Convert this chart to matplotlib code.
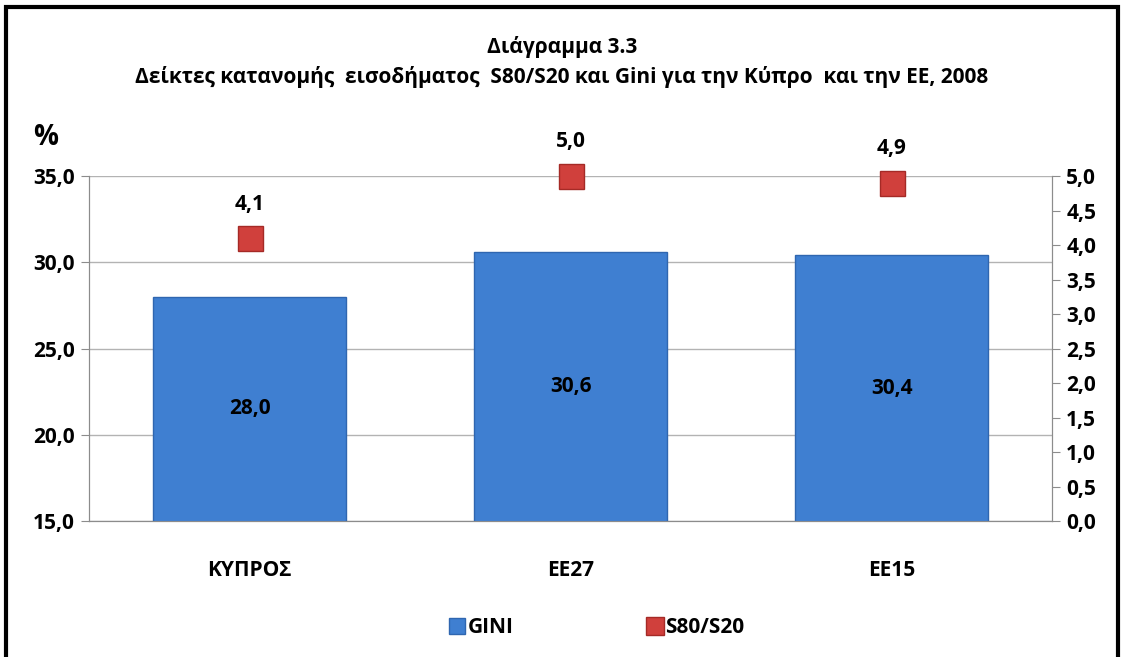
import matplotlib.pyplot as plt
from matplotlib.lines import Line2D
from matplotlib.patches import Rectangle
from matplotlib.ticker import FuncFormatter

categories = ['ΚΥΠΡΟΣ', 'ΕΕ27', 'ΕΕ15']
gini = [28.0, 30.6, 30.4]
s80_s20 = [4.1, 5.0, 4.9]

plt.rcParams['font.family'] = ['Open Sans', 'DejaVu Sans']
plt.rcParams['font.weight'] = 'bold'

bar_color = '#3f7fd1'
mark_color = '#d0403c'
grey = '#8c8c8c'
fs = 15

fig = plt.figure(figsize=(11.24, 6.57), dpi=100)
ax = fig.add_axes([0.0792, 0.207, 0.857, 0.525])
ax2 = ax.twinx()

x = range(len(categories))
bars = ax.bar(x, gini, width=0.6, bottom=0, color=bar_color,
              edgecolor='#2f66b0', linewidth=1.0, zorder=3)
ax.set_ylim(15, 35)
ax.set_xlim(-0.5, 2.5)
ax.set_yticks([15, 20, 25, 30, 35])
ax.yaxis.grid(True, color='#b3b3b3', linewidth=1.0, zorder=0)
ax.set_axisbelow(True)

fmt = FuncFormatter(lambda v, p: f"{v:.1f}".replace('.', ','))
ax.yaxis.set_major_formatter(fmt)
ax.set_xticks(list(x))
ax.set_xticklabels(categories, fontsize=fs, fontweight='bold')
ax.tick_params(axis='x', length=0, pad=28)
ax.tick_params(axis='y', labelsize=fs, color=grey, length=6, direction='out', pad=4)

for b, v in zip(bars, gini):
    ax.text(b.get_x() + b.get_width() / 2, (v + 15) / 2, f"{v:.1f}".replace('.', ','),
            ha='center', va='center', fontsize=fs, fontweight='bold', zorder=5)

ax2.plot(list(x), s80_s20, linestyle='none', marker='s', markersize=18,
         markerfacecolor=mark_color, markeredgecolor='#a52a26', markeredgewidth=1,
         zorder=6, clip_on=False)
ax2.set_ylim(0, 5)
ax2.set_yticks([i * 0.5 for i in range(11)])
ax2.yaxis.set_major_formatter(fmt)
ax2.tick_params(axis='y', labelsize=fs, color=grey, length=6, direction='out', pad=4)
for xi, v in zip(x, s80_s20):
    ax2.annotate(f"{v:.1f}".replace('.', ','), (xi, v), xytext=(0, 17),
                 textcoords='offset points', ha='center', va='bottom',
                 fontsize=fs, fontweight='bold')

for a in (ax, ax2):
    a.spines['top'].set_visible(False)
    a.spines['left'].set_color(grey)
    a.spines['right'].set_color(grey)
    a.spines['bottom'].set_color(grey)

fig.text(0.5, 0.928, 'Διάγραμμα 3.3', ha='center', va='center', fontsize=fs, fontweight='bold')
fig.text(0.5, 0.883, 'Δείκτες κατανομής  εισοδήματος  S80/S20 και Gini για την Κύπρο  και την ΕΕ, 2008',
         ha='center', va='center', fontsize=fs, fontweight='bold')
fig.text(0.041, 0.79, '%', ha='center', va='center', fontsize=20, fontweight='bold')

handles = [Line2D([], [], linestyle='none', marker='s', markersize=11,
                  markerfacecolor=bar_color, markeredgecolor='#2f66b0'),
           Line2D([], [], linestyle='none', marker='s', markersize=13,
                  markerfacecolor=mark_color, markeredgecolor='#a52a26')]
fig.legend(handles, ['GINI', 'S80/S20'], loc='center', bbox_to_anchor=(0.53, 0.045),
           ncol=2, frameon=False, fontsize=fs, handletextpad=0.0, handlelength=1.0,
           columnspacing=6.3)

fig.patches.append(Rectangle((0.005, -0.01), 0.99, 1.0, transform=fig.transFigure,
                             fill=False, edgecolor='black', linewidth=3))

fig.savefig('out.png', dpi=100)
plt.close()
